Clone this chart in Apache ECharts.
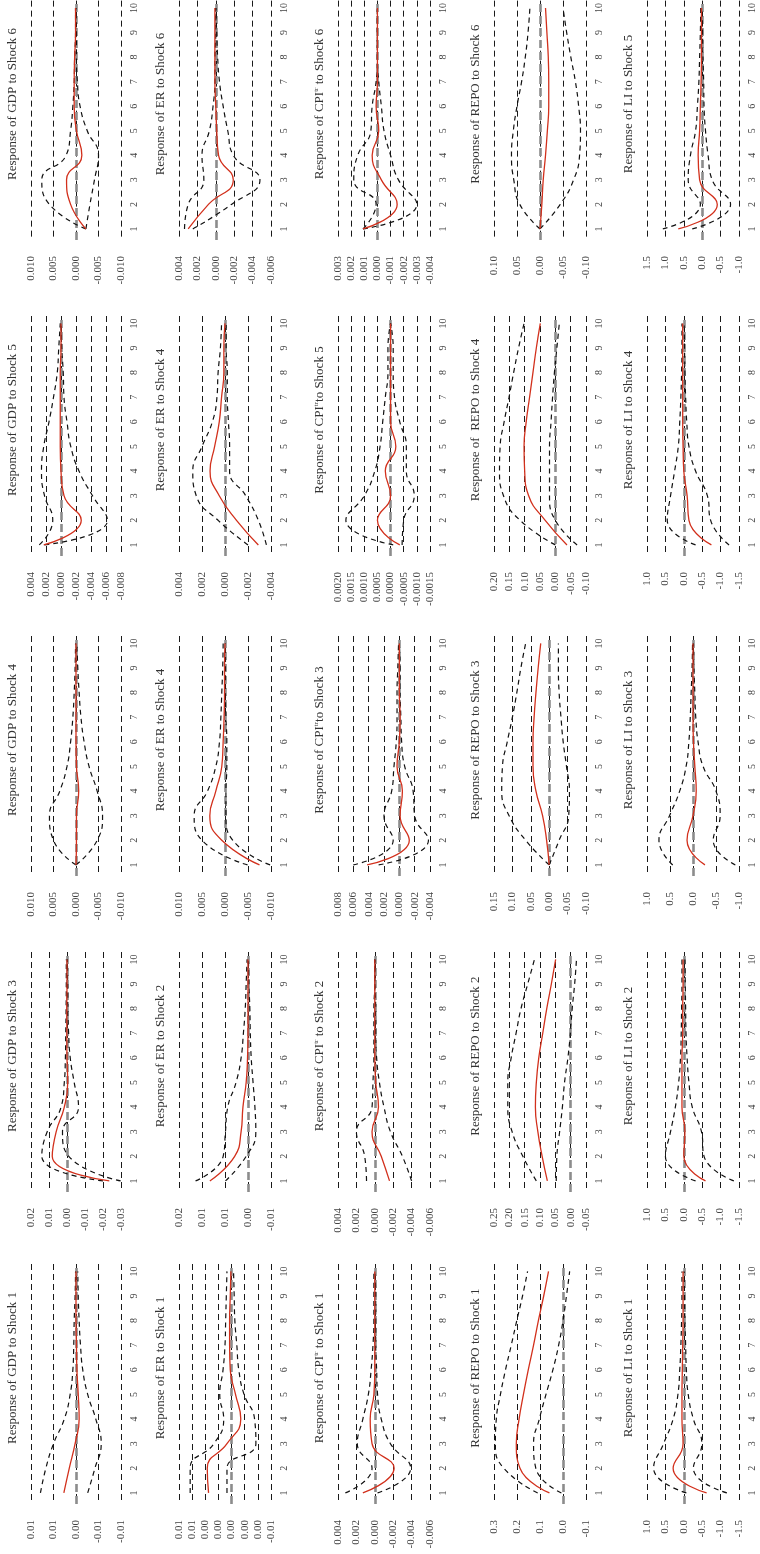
<!DOCTYPE html>
<html>
<head>
<meta charset="utf-8" />
<title>Impulse responses</title>
<script src="https://cdn.jsdelivr.net/npm/echarts@6/dist/echarts.min.js"></script>
<style>
  html, body { margin: 0; padding: 0; background: #fff; }
  #chart { width: 760px; height: 1554px; }
</style>
</head>
<body>
<div id="chart"></div>
<script>
// horizon of the responses (drawn on the vertical axis, 1 at the bottom)
var periods = [1, 2, 3, 4, 5, 6, 7, 8, 9, 10];

// panel titles, rows top -> bottom, columns GDP / ER / CPI / REPO / LI
var titles = [
  'Response of GDP to Shock 6', 'Response of ER to Shock 6', 'Response of CPI{sup|tr} to Shock 6', 'Response of REPO to Shock 6', 'Response of LI to Shock 5',
  'Response of GDP to Shock 5', 'Response of ER to Shock 4', 'Response of CPI{sup|tr}to Shock 5', 'Response of  REPO to Shock 4', 'Response of LI to Shock 4',
  'Response of GDP to Shock 4', 'Response of ER to Shock 4', 'Response of CPI{sup|tr}to Shock 3', 'Response of REPO to Shock 3', 'Response of LI to Shock 3',
  'Response of GDP to Shock 3', 'Response of ER to Shock 2', 'Response of CPI{sup|tr} to Shock 2', 'Response of REPO to Shock 2', 'Response of LI to Shock 2',
  'Response of GDP to Shock 1', 'Response of ER to Shock 1', 'Response of CPI{sup|tr} to Shock 1', 'Response of REPO to Shock 1', 'Response of LI to Shock 1'
];

// value axis of each panel: [min, max, step, decimals of the tick labels]
var valueAxes = [
  [-0.010, 0.010, 0.005, 3], [-0.006, 0.004, 0.002, 3], [-0.004, 0.003, 0.001, 3], [-0.10, 0.10, 0.05, 2], [-1.0, 1.5, 0.5, 1],
  [-0.008, 0.004, 0.002, 3], [-0.004, 0.004, 0.002, 3], [-0.0015, 0.0020, 0.0005, 4], [-0.10, 0.20, 0.05, 2], [-1.5, 1.0, 0.5, 1],
  [-0.010, 0.010, 0.005, 3], [-0.010, 0.010, 0.005, 3], [-0.004, 0.008, 0.002, 3], [-0.10, 0.15, 0.05, 2], [-1.0, 1.0, 0.5, 1],
  [-0.03, 0.02, 0.01, 2], [-0.005, 0.015, 0.005, 2], [-0.006, 0.004, 0.002, 3], [-0.05, 0.25, 0.05, 2], [-1.5, 1.0, 0.5, 1],
  [-0.010, 0.010, 0.005, 2], [-0.006, 0.008, 0.002, 2], [-0.006, 0.004, 0.002, 3], [-0.1, 0.3, 0.1, 1], [-1.5, 1.0, 0.5, 1]
];

// responses (mid) and +/- 2 s.e. bands (up, lo)
var gdp6 = [-0.0022, 0.0012, 0.0021, -0.0013, -0.0001, 0.0004, 0.0004, 0.0003, 0.0001, 0.0001];
var gdp6Up = [-0.0022, 0.0059, 0.0076, 0.0022, 0.0012, 0.0007, 0.0004, 0.0003, 0.0001, 0.0001];
var gdp6Lo = [-0.0022, -0.0031, -0.0041, -0.0050, -0.0025, -0.0009, -0.0003, -0.0001, -0.0001, 0];
var er6 = [0.0030, 0.0008, -0.0019, -0.0003, -0.0001, 0, 0.0001, 0.0001, 0.0001, 0.0001];
var er6Up = [0.0034, 0.0030, 0.0013, 0.0015, 0.0007, 0.0003, 0.0001, 0.0001, 0, 0];
var er6Lo = [0.0025, -0.0017, -0.0048, -0.0019, -0.0013, -0.0008, -0.0004, -0.0002, -0.0001, 0];
var cpi6 = [0.0011, -0.0015, -0.0003, 0.0004, -0.0001, 0.0001, 0, 0, 0, 0];
var cpi6Up = [0.0011, 0.0001, 0.0018, 0.0015, 0.0005, 0.0004, 0.0001, 0, 0, 0];
var cpi6Lo = [0.0011, -0.0030, -0.0016, -0.0010, -0.0005, -0.0003, -0.0001, 0, 0, 0];
var repo6 = [0, -0.004, -0.007, -0.012, -0.016, -0.019, -0.019, -0.018, -0.015, -0.012];
var repo6Up = [0, 0.044, 0.057, 0.062, 0.058, 0.050, 0.040, 0.032, 0.026, 0.022];
var repo6Lo = [0, -0.044, -0.073, -0.086, -0.088, -0.084, -0.077, -0.067, -0.058, -0.050];
var li5 = [0.65, -0.41, 0.07, 0.11, 0.07, 0.05, 0.03, 0.02, 0.02, 0.02];
var li5Up = [1.07, 0.05, 0.38, 0.32, 0.18, 0.13, 0.09, 0.07, 0.05, 0.04];
var li5Lo = [0.27, -0.77, -0.27, -0.16, -0.09, -0.05, -0.04, -0.02, -0.01, 0];

var gdp5 = [0.0023, -0.0027, -0.0004, 0, 0.0001, 0.0001, 0.0001, 0.0001, 0, 0];
var gdp5Up = [0.0029, 0.0011, 0.0022, 0.0026, 0.0023, 0.0016, 0.0010, 0.0005, 0.0003, 0.0001];
var gdp5Lo = [0.0022, -0.0062, -0.0042, -0.0024, -0.0013, -0.0008, -0.0004, -0.0003, -0.0001, 0];
var er4 = [-0.0029, -0.0010, 0.0005, 0.0013, 0.0009, 0.0005, 0.0003, 0.0001, 0.0001, 0];
var er4Up = [-0.0020, 0.0006, 0.0025, 0.0028, 0.0020, 0.0011, 0.0007, 0.0006, 0.0004, 0.0003];
var er4Lo = [-0.0036, -0.0029, -0.0018, -0.0004, -0.0004, -0.0003, -0.0002, -0.0002, -0.0001, -0.0001];
var cpi5 = [-0.00035, 0.0005, 0, 0.0002, -0.0002, 0, 0, 0, 0, 0];
var cpi5Up = [-0.0001, 0.0017, 0.0010, 0.0006, 0.0004, 0.0003, 0.0002, 0.0001, 0.0001, 0];
var cpi5Lo = [-0.00044, -0.0005, -0.0009, -0.0006, -0.0006, -0.00035, -0.00015, -0.0001, -0.0001, 0];
var repo4 = [-0.038, 0.033, 0.087, 0.100, 0.102, 0.095, 0.084, 0.073, 0.062, 0.049];
var repo4Up = [0, 0.115, 0.169, 0.182, 0.180, 0.167, 0.151, 0.136, 0.120, 0.102];
var repo4Lo = [-0.071, 0, 0.019, 0.019, 0.019, 0.014, 0.009, 0.003, -0.005, -0.013];
var li4 = [-0.75, -0.14, -0.09, 0, 0.02, 0.03, 0.03, 0.03, 0.03, 0.03];
var li4Up = [-0.32, 0.45, 0.36, 0.25, 0.15, 0.11, 0.08, 0.06, 0.05, 0.05];
var li4Lo = [-1.23, -0.73, -0.64, -0.32, -0.14, -0.08, -0.05, -0.03, -0.02, -0.01];

var gdp4 = [0, -0.0001, -0.0001, -0.0006, -0.0001, 0, 0, 0, 0, 0];
var gdp4Up = [0, 0.0050, 0.0059, 0.0036, 0.0020, 0.0012, 0.0007, 0.0004, 0.0002, 0.0001];
var gdp4Lo = [0, -0.0047, -0.0059, -0.0047, -0.0029, -0.0018, -0.0011, -0.0007, -0.0004, -0.0002];
var er4b = [-0.0075, 0.0007, 0.0033, 0.0020, 0.0007, 0.0004, 0.0002, 0.0001, 0.0001, 0];
var er4bUp = [-0.0049, 0.0050, 0.0067, 0.0038, 0.0020, 0.0012, 0.0009, 0.0007, 0.0005, 0.0004];
var er4bLo = [-0.0098, -0.0017, -0.0002, -0.0002, -0.0004, -0.0004, -0.0002, -0.0001, -0.0001, -0.0001];
var cpi3 = [0.0042, -0.0013, -0.0001, -0.0004, 0.0003, 0, -0.0001, 0, 0, 0];
var cpi3Up = [0.0060, 0.0008, 0.0020, 0.0010, 0.0007, 0.0004, 0.0003, 0.0003, 0.0002, 0.0001];
var cpi3Lo = [0.0027, -0.0038, -0.0020, -0.0018, -0.0007, -0.0003, -0.0002, -0.0001, -0.0001, 0];
var repo3 = [0, 0.007, 0.018, 0.036, 0.044, 0.044, 0.041, 0.036, 0.030, 0.023];
var repo3Up = [0, 0.064, 0.109, 0.129, 0.127, 0.114, 0.100, 0.088, 0.077, 0.064];
var repo3Lo = [0, -0.027, -0.053, -0.055, -0.047, -0.038, -0.032, -0.027, -0.025, -0.025];
var li3 = [-0.26, 0.13, 0, -0.07, -0.04, -0.01, 0, 0, 0, 0];
var li3Up = [0.44, 0.74, 0.51, 0.29, 0.15, 0.09, 0.06, 0.04, 0.02, 0.01];
var li3Lo = [-0.92, -0.44, -0.59, -0.50, -0.22, -0.11, -0.06, -0.04, -0.02, -0.01];

var gdp3 = [-0.0235, 0.0082, 0.0060, 0.0015, -0.0004, 0, 0.0001, 0.0001, 0, 0];
var gdp3Up = [-0.0200, 0.0140, 0.0110, 0.0033, 0.0015, 0.0009, 0.0007, 0.0005, 0.0004, 0.0004];
var gdp3Lo = [-0.0298, -0.0010, 0.0025, -0.0064, -0.0040, -0.0018, -0.0009, -0.0005, -0.0004, -0.0002];
var er2 = [0.0083, 0.0029, 0.0015, 0.0011, 0.0004, 0.0001, 0, 0, 0, 0];
var er2Up = [0.0114, 0.0054, 0.0049, 0.0044, 0.0026, 0.0015, 0.0010, 0.0006, 0.0004, 0.0002];
var er2Lo = [0.0049, 0.0004, -0.0017, -0.0015, -0.0011, -0.0007, -0.0005, -0.0004, -0.0002, -0.0001];
var cpi2 = [-0.0016, -0.0007, 0.0003, -0.0004, -0.0001, 0, 0, 0, 0, 0];
var cpi2Up = [0.0009, 0.0011, 0.0020, 0.0003, 0.0002, 0.0001, 0.0001, 0.0001, 0, 0];
var cpi2Lo = [-0.0040, -0.0030, -0.0017, -0.0010, -0.0005, -0.0002, -0.0001, -0.0001, 0, 0];
var repo2 = [0.076, 0.093, 0.107, 0.115, 0.112, 0.104, 0.091, 0.078, 0.063, 0.049];
var repo2Up = [0.112, 0.156, 0.191, 0.205, 0.205, 0.194, 0.178, 0.162, 0.140, 0.118];
var repo2Lo = [0.047, 0.045, 0.036, 0.027, 0.020, 0.009, 0.001, -0.005, -0.013, -0.019];
var li2 = [-0.59, 0, -0.03, 0.05, 0.05, 0.05, 0.03, 0.03, 0.02, 0.02];
var li2Up = [-0.32, 0.50, 0.36, 0.23, 0.14, 0.09, 0.07, 0.06, 0.05, 0.05];
var li2Lo = [-1.36, -0.55, -0.48, -0.23, -0.14, -0.09, -0.06, -0.05, -0.04, -0.03];

var gdp1 = [0.0027, 0.0015, 0.0002, -0.0007, -0.0005, -0.0002, -0.0001, 0, 0, 0];
var gdp1Up = [0.0079, 0.0067, 0.0050, 0.0026, 0.0013, 0.0007, 0.0005, 0.0004, 0.0002, 0.0001];
var gdp1Lo = [-0.0026, -0.0042, -0.0056, -0.0044, -0.0026, -0.0015, -0.0010, -0.0007, -0.0005, -0.0004];
var er1 = [0.0035, 0.0037, 0.0007, -0.0014, -0.0006, 0.0002, 0.0003, 0.0003, 0.0002, 0.0001];
var er1Up = [0.0063, 0.0063, 0.0027, 0.0012, 0.0018, 0.0013, 0.0010, 0.0009, 0.0008, 0.0007];
var er1Lo = [0.0007, 0.0007, -0.0037, -0.0035, -0.0019, -0.0011, -0.0008, -0.0005, -0.0004, -0.0003];
var cpi1 = [0.0013, -0.0021, 0.0003, 0.0005, 0.0001, 0, 0, 0, 0, 0];
var cpi1Up = [0.0032, 0.0003, 0.0019, 0.0013, 0.0007, 0.0004, 0.0002, 0.0001, 0.0001, 0.0001];
var cpi1Lo = [-0.0003, -0.0039, -0.0017, -0.0007, -0.0003, -0.0002, -0.0001, -0.0001, -0.0001, 0];
var repo1 = [0.059, 0.187, 0.203, 0.191, 0.172, 0.151, 0.128, 0.107, 0.084, 0.063];
var repo1Up = [0.110, 0.257, 0.294, 0.290, 0.272, 0.250, 0.225, 0.201, 0.176, 0.154];
var repo1Lo = [0.007, 0.118, 0.128, 0.103, 0.074, 0.044, 0.019, 0, -0.015, -0.029];
var li1 = [-0.62, 0.29, 0.02, 0.05, 0.05, 0.04, 0.03, 0.02, 0.02, 0.02];
var li1Up = [-0.07, 0.82, 0.55, 0.29, 0.16, 0.11, 0.08, 0.06, 0.05, 0.05];
var li1Lo = [-1.17, -0.26, -0.49, -0.26, -0.12, -0.07, -0.05, -0.03, -0.02, -0.01];

var panels = [
  [gdp6, gdp6Up, gdp6Lo], [er6, er6Up, er6Lo], [cpi6, cpi6Up, cpi6Lo], [repo6, repo6Up, repo6Lo], [li5, li5Up, li5Lo],
  [gdp5, gdp5Up, gdp5Lo], [er4, er4Up, er4Lo], [cpi5, cpi5Up, cpi5Lo], [repo4, repo4Up, repo4Lo], [li4, li4Up, li4Lo],
  [gdp4, gdp4Up, gdp4Lo], [er4b, er4bUp, er4bLo], [cpi3, cpi3Up, cpi3Lo], [repo3, repo3Up, repo3Lo], [li3, li3Up, li3Lo],
  [gdp3, gdp3Up, gdp3Lo], [er2, er2Up, er2Lo], [cpi2, cpi2Up, cpi2Lo], [repo2, repo2Up, repo2Lo], [li2, li2Up, li2Lo],
  [gdp1, gdp1Up, gdp1Lo], [er1, er1Up, er1Lo], [cpi1, cpi1Up, cpi1Lo], [repo1, repo1Up, repo1Lo], [li1, li1Up, li1Lo]
];

// layout of the 5 x 5 panels (page is portrait, panels are turned a quarter)
var colLeft = [31, 179, 338, 494, 647];
var colWidth = [90, 92, 92, 92, 92];
var rowTop = [0, 316, 636, 952, 1264];
var plotHeight = 240;
var serif = 'Liberation Serif';

// EViews style rounding: 0.005 -> 0.01, -0.002 -> 0.00
function fmt(v, d) {
  var p = Math.pow(10, d);
  var r = Math.round(Math.abs(v) * p + 1e-7) / p;
  return (v < 0 && r > 0 ? '-' : '') + r.toFixed(d);
}

function pairs(arr) {
  return periods.map(function (t, k) { return [arr[k], t]; });
}

var grids = [], xAxes = [], yAxes = [], series = [], texts = [];

panels.forEach(function (p, i) {
  var r = Math.floor(i / 5), c = i % 5;
  var ax = valueAxes[i];
  grids.push({ left: colLeft[c], top: rowTop[r], width: colWidth[c], height: plotHeight });
  xAxes.push({
    gridIndex: i,
    type: 'value',
    inverse: true,
    min: ax[0], max: ax[1], interval: ax[2],
    axisLine: { show: false },
    axisTick: { show: false },
    splitLine: { show: true, lineStyle: { color: '#1a1a1a', width: 1, type: [6, 4] } },
    axisLabel: {
      rotate: 90, margin: 16, fontSize: 11, color: '#444', fontFamily: serif,
      showMinLabel: true, showMaxLabel: true,
      formatter: function (v) { return fmt(v, ax[3]); }
    }
  });
  yAxes.push({
    gridIndex: i,
    type: 'value',
    position: 'right',
    min: 0.55, max: 10.3,
    axisLine: { show: false },
    axisTick: { show: false },
    splitLine: { show: false },
    axisLabel: { rotate: 90, margin: 8, fontSize: 10, color: '#444', fontFamily: serif, customValues: periods }
  });
  // point estimate + zero line
  series.push({
    type: 'line', xAxisIndex: i, yAxisIndex: i, z: 3,
    data: pairs(p[0]), smooth: true, symbol: 'none',
    lineStyle: { color: '#d2301c', width: 1.3 },
    markLine: {
      silent: true, z: 1, symbol: ['none', 'none'], label: { show: false },
      lineStyle: { color: '#8c8c8c', width: 2.6, type: [8, 4] },
      data: [{ xAxis: 0 }]
    }
  });
  [p[1], p[2]].forEach(function (band) {
    series.push({
      type: 'line', xAxisIndex: i, yAxisIndex: i, z: 2,
      data: pairs(band), smooth: true, symbol: 'none',
      lineStyle: { color: '#111', width: 1.2, type: [5, 4] }
    });
  });
  texts.push({
    type: 'text',
    x: colLeft[c] - 18,
    y: rowTop[r] + 104,
    rotation: Math.PI / 2,
    silent: true,
    style: {
      text: titles[i],
      fontSize: 13,
      fontFamily: serif,
      fill: '#333',
      textAlign: 'center',
      textVerticalAlign: 'middle',
      rich: {
        sup: { fontSize: 7, fontFamily: serif, fill: '#333', verticalAlign: 'top', lineHeight: 14 }
      }
    }
  });
});

var chart = echarts.init(document.getElementById('chart'));
chart.setOption({
  animation: false,
  backgroundColor: '#fff',
  grid: grids,
  xAxis: xAxes,
  yAxis: yAxes,
  series: series,
  graphic: texts
});
</script>
</body>
</html>
